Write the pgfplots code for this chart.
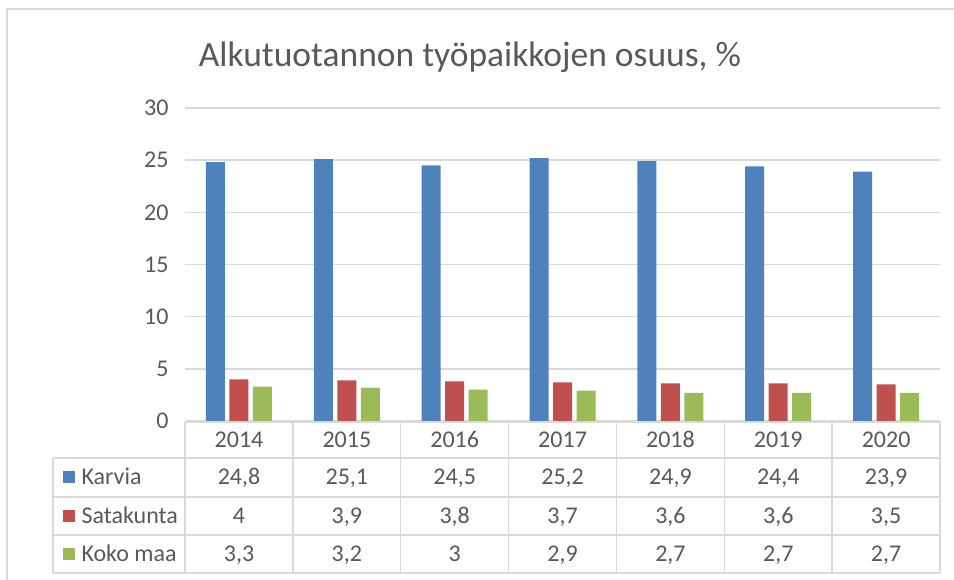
\documentclass[border=0pt]{standalone}
\usepackage{pgfplots}
\pgfplotsset{compat=1.18}
\usepackage{fontspec}
\setmainfont{Carlito}
\definecolor{karvia}{HTML}{4F81BD}
\definecolor{satakunta}{HTML}{C0504D}
\definecolor{kokomaa}{HTML}{9BBB59}
\definecolor{gridgray}{HTML}{D9D9D9}
\definecolor{txt}{HTML}{595959}
\begin{document}
\begin{tikzpicture}[x=1pt,y=1pt]
\useasboundingbox (0,0) rectangle (954,580);
% outer chart frame (only top and left visible)
\draw[gridgray, line width=2pt] (7,0) -- (7,571) -- (954,571);
\node[txt, font=\fontsize{35.5}{40}\selectfont] at (470,523) {Alkutuotannon työpaikkojen osuus, \%};
\begin{axis}[
  at={(185pt,159pt)}, anchor=south west,
  scale only axis, width=755pt, height=313pt,
  ymin=0, ymax=30, ytick={0,5,...,30},
  xmin=-0.5, xmax=6.5, xtick=\empty,
  ybar=4.5pt, bar width=19pt,
  axis line style={draw=none},
  major tick length=0pt,
  ymajorgrids, grid style={gridgray, line width=1.5pt},
  tick label style={txt, font=\fontsize{24}{28}\selectfont},
  yticklabel style={xshift=-13pt},
  /pgf/number format/assume math mode=true,
  clip=false,
]
\addplot[fill=karvia, draw=none] coordinates {(0,24.8) (1,25.1) (2,24.5) (3,25.2) (4,24.9) (5,24.4) (6,23.9)};
\addplot[fill=satakunta, draw=none] coordinates {(0,4) (1,3.9) (2,3.8) (3,3.7) (4,3.6) (5,3.6) (6,3.5)};
\addplot[fill=kokomaa, draw=none] coordinates {(0,3.3) (1,3.2) (2,3.0) (3,2.9) (4,2.7) (5,2.7) (6,2.7)};
\end{axis}
% data table below the plot
\begin{scope}[gridgray, line width=1.5pt]
\draw (185,158) -- (940,158);
\foreach \y in {122,83,45,7} \draw (53,\y) -- (940,\y);
\draw (53,122) -- (53,7);
\foreach \i in {0,...,7} \draw ({185+\i*107.857},158) -- ({185+\i*107.857},7);
\end{scope}
\begin{scope}[txt, font=\fontsize{24}{28}\selectfont,
  every node/.style={text height=15pt, text depth=0pt}]
\foreach \yr [count=\i from 0] in {2014,2015,2016,2017,2018,2019,2020}
  \node at ({239+\i*107.857},140) {\yr};
\foreach \v [count=\i from 0] in {24{,}8,25{,}1,24{,}5,25{,}2,24{,}9,24{,}4,23{,}9}
  \node at ({239+\i*107.857},102.5) {\v};
\foreach \v [count=\i from 0] in {4,3{,}9,3{,}8,3{,}7,3{,}6,3{,}6,3{,}5}
  \node at ({239+\i*107.857},64) {\v};
\foreach \v [count=\i from 0] in {3{,}3,3{,}2,3,2{,}9,2{,}7,2{,}7,2{,}7}
  \node at ({239+\i*107.857},26) {\v};
\fill[karvia] (63,96.5) rectangle (75,108.5);
\fill[satakunta] (63,58) rectangle (75,70);
\fill[kokomaa] (63,20) rectangle (75,32);
\node[anchor=west] at (78,102.5) {Karvia};
\node[anchor=west] at (78,64) {Satakunta};
\node[anchor=west] at (78,26) {Koko maa};
\end{scope}
\end{tikzpicture}
\end{document}
